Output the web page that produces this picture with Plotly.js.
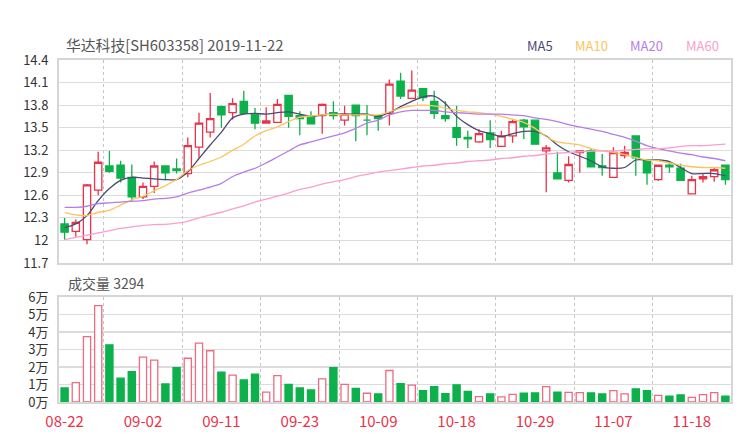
<!DOCTYPE html>
<html>
<head>
<meta charset="utf-8">
<script src="https://cdn.plot.ly/plotly-3.0.1.min.js"></script>
<style>
html,body{margin:0;padding:0;background:#fff}
#chart{width:740px;height:440px}
</style>
</head>
<body>
<div id="chart"></div>
<script>
// ---------- data ----------
const titleText = '华达科技[SH603358] 2019-11-22';
const volumeTitle = '成交量 3294';

const dates = [
  '08-22','08-23','08-26','08-27','08-28','08-29','08-30',
  '09-02','09-03','09-04','09-05','09-06','09-09','09-10','09-11','09-12',
  '09-16','09-17','09-18','09-19','09-20','09-23','09-24','09-25','09-26','09-27','09-30',
  '10-08','10-09','10-10','10-11','10-14','10-15','10-16','10-17','10-18',
  '10-21','10-22','10-23','10-24','10-25','10-28','10-29','10-30','10-31',
  '11-01','11-04','11-05','11-06','11-07','11-08','11-11','11-12','11-13','11-14','11-15',
  '11-18','11-19','11-20','11-22'
];

const openP = [12.22,12.12,12.01,12.67,12.99,13.00,12.84,12.58,12.72,12.99,
               12.95,12.89,13.24,13.44,13.78,13.70,13.85,13.68,13.56,13.57,
               13.93,13.66,13.64,13.66,13.70,13.60,13.80,13.60,13.66,13.69,
               14.12,13.89,14.02,13.85,13.66,13.50,13.37,13.31,13.43,13.25,
               13.39,13.60,13.60,13.19,12.90,12.80,13.17,13.19,12.99,12.84,
               13.13,13.39,13.06,12.81,13.00,12.96,12.62,12.82,12.85,13.00];
const highP = [12.30,12.28,12.75,13.18,13.19,13.06,13.01,12.77,13.05,13.00,
               13.09,13.37,13.70,13.96,13.79,13.89,13.99,13.76,13.77,13.88,
               13.93,13.72,13.72,13.82,13.85,13.79,13.80,13.80,13.66,14.14,
               14.23,14.26,14.02,13.99,13.85,13.79,13.46,13.48,13.60,13.46,
               13.62,13.62,13.61,13.27,13.18,13.12,13.20,13.23,13.15,13.24,
               13.26,13.40,13.07,13.00,13.05,13.02,12.86,12.88,12.97,13.00];
const lowP  = [12.01,12.05,11.95,12.60,12.90,12.77,12.51,12.55,12.63,12.80,
               12.89,12.84,13.10,13.37,13.50,13.61,13.69,13.48,13.56,13.57,
               13.50,13.40,13.55,13.42,13.61,13.53,13.32,13.40,13.46,13.53,
               13.88,13.89,13.85,13.62,13.58,13.26,13.23,13.30,13.23,13.25,
               13.30,13.35,13.28,12.64,12.81,12.77,12.90,12.98,12.86,12.84,
               13.09,12.86,12.74,12.79,12.90,12.80,12.62,12.77,12.78,12.74];
const closeP = [12.11,12.24,12.74,13.04,12.92,12.83,12.58,12.72,12.99,12.90,
               12.93,13.26,13.56,13.62,13.67,13.82,13.69,13.56,13.59,13.81,
               13.65,13.62,13.55,13.81,13.66,13.68,13.66,13.60,13.62,14.08,
               13.92,14.00,13.90,13.69,13.62,13.37,13.35,13.42,13.34,13.39,
               13.58,13.51,13.28,13.23,12.82,13.01,13.19,12.98,12.97,13.17,
               13.17,13.10,12.90,13.00,12.98,12.80,12.81,12.85,12.94,12.81];

const ma5  = [12.17,12.22,12.33,12.53,12.69,12.80,12.84,12.83,12.82,12.81,
              12.81,12.91,13.09,13.27,13.44,13.63,13.68,13.69,13.68,13.70,
              13.71,13.68,13.65,13.67,13.68,13.68,13.68,13.68,13.65,13.70,
              13.78,13.85,13.91,13.92,13.82,13.65,13.54,13.46,13.42,13.38,
              13.42,13.45,13.45,13.39,13.27,13.18,13.12,13.06,12.98,12.96,
              12.97,13.07,13.07,13.07,13.05,12.97,12.89,12.89,12.89,12.86];
const ma10 = [12.37,12.34,12.33,12.375,12.40,12.47,12.54,12.59,12.66,12.73,
              12.81,12.93,13.00,13.05,13.11,13.20,13.28,13.39,13.46,13.51,
              13.58,13.64,13.655,13.67,13.68,13.67,13.67,13.67,13.67,13.71,
              13.76,13.79,13.80,13.79,13.76,13.73,13.71,13.70,13.68,13.65,
              13.61,13.57,13.49,13.38,13.31,13.29,13.27,13.22,13.19,13.17,
              13.14,13.10,13.07,13.06,13.03,13.00,12.98,12.97,12.97,12.96];
const ma20 = [12.44,12.44,12.455,12.49,12.50,12.51,12.52,12.53,12.55,12.56,
              12.58,12.63,12.67,12.71,12.76,12.85,12.91,12.96,13.03,13.11,
              13.19,13.27,13.31,13.35,13.39,13.43,13.49,13.56,13.60,13.67,
              13.71,13.73,13.73,13.73,13.71,13.70,13.69,13.68,13.68,13.68,
              13.67,13.66,13.63,13.61,13.58,13.54,13.51,13.48,13.45,13.41,
              13.37,13.32,13.26,13.22,13.19,13.16,13.14,13.11,13.09,13.06];
const ma60 = [12.01,12.04,12.07,12.10,12.13,12.16,12.18,12.20,12.21,12.215,
              12.23,12.255,12.30,12.34,12.375,12.42,12.46,12.51,12.55,12.59,
              12.63,12.68,12.71,12.75,12.78,12.81,12.85,12.88,12.91,12.93,
              12.95,12.97,12.99,13.00,13.02,13.03,13.05,13.06,13.07,13.09,
              13.10,13.12,13.13,13.15,13.16,13.17,13.18,13.185,13.19,13.19,
              13.20,13.21,13.22,13.22,13.23,13.25,13.26,13.26,13.27,13.28];

const volume = [8000,11100,37300,55100,32700,13600,17400,25600,23900,10300,
                19700,25000,33700,29300,17000,15300,12600,15900,5700,15100,
                10100,8000,6900,13200,19700,10100,7800,5000,4600,18000,
                10500,9600,6500,8800,4800,9800,6100,3100,4600,2900,
                4400,5000,5200,8800,5700,5500,5400,5200,4600,6500,
                4600,7500,6500,3800,3300,4000,2700,4200,5400,3294];

const maNames = ['MA5','MA10','MA20','MA60'];
const priceTicks = [11.7,12,12.3,12.6,12.9,13.2,13.5,13.8,14.1,14.4];
const volTicks = [0,10000,20000,30000,40000,50000,60000];
const volTickText = ['0万','1万','2万','3万','4万','5万','6万'];

// ---------- styles ----------
const RED = '#e8334a', RED_SOFT = '#ee6c80', GREEN = '#0db14b';
const maColors = ['#4b4a70','#fcc45c','#b57ee6','#fa9fcb'];
const FONT = '"Noto Sans CJK SC", "Noto Sans", sans-serif';
const W = 740, H = 440;
const M = {l:59, r:9, t:60, b:38};
const plotW = W - M.l - M.r, plotH = H - M.t - M.b;
const pxX = px => (px - M.l) / plotW;
const pxY = py => (H - M.b - py) / plotH;

const xIdx = dates.map((d, i) => i);
const labelStep = 7;
const tickIdx = xIdx.filter(i => i % labelStep === 0);
const tickText = tickIdx.map(i => dates[i]);
const gridIdx = xIdx.filter(i => i % labelStep === 3).map(i => i + 0.5);

const mas = [ma5, ma10, ma20, ma60];

const traces = [];
traces.push({
  type: 'candlestick', x: xIdx, open: openP, high: highP, low: lowP, close: closeP,
  xaxis: 'x', yaxis: 'y',
  increasing: {line: {color: RED, width: 1.3}, fillcolor: '#ffffff'},
  decreasing: {line: {color: GREEN, width: 1.3}, fillcolor: GREEN},
  whiskerwidth: 0, hoverinfo: 'skip', showlegend: false
});
mas.forEach((arr, k) => {
  traces.push({
    type: 'scatter', mode: 'lines', x: xIdx, y: arr, xaxis: 'x', yaxis: 'y',
    line: {color: maColors[k], width: 1.3, shape: 'spline', smoothing: 0.8},
    hoverinfo: 'skip', showlegend: false, name: maNames[k]
  });
});
const isUp = xIdx.map(i => closeP[i] >= openP[i]);
traces.push({
  type: 'bar', x: xIdx, y: volume, xaxis: 'x2', yaxis: 'y2', width: 0.64,
  marker: {color: isUp.map(u => u ? '#ffffff' : GREEN),
           line: {color: isUp.map(u => u ? RED_SOFT : GREEN), width: 1.3}},
  hoverinfo: 'skip', showlegend: false
});

const frame = {showline: true, mirror: true, linecolor: '#d6d6d6', linewidth: 2, zeroline: false, fixedrange: true};
const minorGrid = {tickmode: 'array', tickvals: gridIdx, showgrid: true, griddash: 'dot', gridcolor: '#c4c4c4', gridwidth: 1, ticks: ''};

const priceBottom = pxY(263), volTop = pxY(297);

const annotations = [{
  text: volumeTitle, xref: 'paper', yref: 'paper', x: pxX(66), y: pxY(283),
  xanchor: 'left', yanchor: 'middle', showarrow: false,
  font: {family: FONT, size: 14, color: '#555'}
}];
const legendCenters = [540, 591.5, 646.5, 702];
maNames.forEach((n, k) => annotations.push({
  text: n, xref: 'paper', yref: 'paper', x: pxX(legendCenters[k]), y: pxY(46),
  xanchor: 'center', yanchor: 'middle', showarrow: false,
  font: {family: FONT, size: 13, color: maColors[k]}
}));

const layout = {
  width: W, height: H, margin: M,
  paper_bgcolor: '#ffffff', plot_bgcolor: '#ffffff',
  showlegend: false, hovermode: false, dragmode: false,
  font: {family: FONT, size: 13, color: '#333'},
  boxgap: 0.35, boxgroupgap: 0,
  title: {text: titleText, x: 66 / W, xref: 'container', xanchor: 'left',
          y: 1 - 46 / H, yref: 'container', yanchor: 'middle',
          font: {family: FONT, size: 14.8, color: '#555'}},
  xaxis: Object.assign({}, frame, {
    domain: [0, 1], anchor: 'y', range: [-0.5, xIdx.length - 0.5],
    tickmode: 'array', tickvals: tickIdx, showticklabels: false, showgrid: false, ticks: '',
    rangeslider: {visible: false}, minor: minorGrid
  }),
  xaxis2: Object.assign({}, frame, {
    domain: [0, 1], anchor: 'y2', matches: 'x', range: [-0.5, xIdx.length - 0.5],
    tickmode: 'array', tickvals: tickIdx, ticktext: tickText, showgrid: false,
    ticks: 'outside', ticklen: 5, tickcolor: 'rgba(0,0,0,0)',
    tickfont: {family: FONT, size: 15, color: RED}, minor: minorGrid
  }),
  yaxis: Object.assign({}, frame, {
    domain: [priceBottom, 1], anchor: 'x', range: [11.7, 14.4],
    tickmode: 'array', tickvals: priceTicks, ticktext: priceTicks.map(String),
    showgrid: true, gridcolor: '#dcdcdc', gridwidth: 1.2,
    ticks: 'outside', ticklen: 6, tickcolor: 'rgba(0,0,0,0)',
    tickfont: {family: FONT, size: 13, color: '#333'}
  }),
  yaxis2: Object.assign({}, frame, {
    domain: [0, volTop], anchor: 'x2', range: [0, 60000],
    tickmode: 'array', tickvals: volTicks, ticktext: volTickText,
    showgrid: true, gridcolor: '#dcdcdc', gridwidth: 1.2,
    ticks: 'outside', ticklen: 6, tickcolor: 'rgba(0,0,0,0)',
    tickfont: {family: FONT, size: 13, color: '#333'}
  }),
  annotations: annotations
};

Plotly.newPlot('chart', traces, layout, {displayModeBar: false, staticPlot: true});
</script>
</body>
</html>
